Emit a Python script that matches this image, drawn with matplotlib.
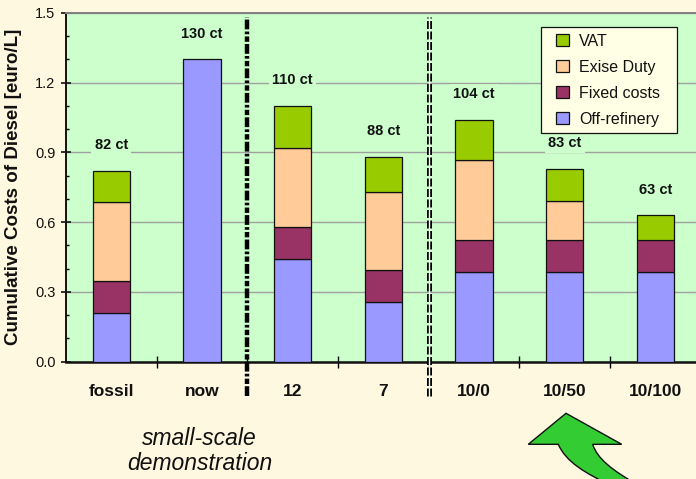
import matplotlib
matplotlib.use("Agg")
import matplotlib.pyplot as plt
import numpy as np
from matplotlib.path import Path
from matplotlib.patches import PathPatch, Patch, Rectangle
from matplotlib.transforms import Affine2D, blended_transform_factory
from matplotlib.ticker import MultipleLocator, FixedLocator

plt.rcParams['font.family'] = ['Liberation Sans', 'DejaVu Sans']

# Cost breakdown of diesel per scenario (euro per litre)
categories = ["fossil", "now", "12", "7", "10/0", "10/50", "10/100"]
off_refinery = [0.21, 1.30, 0.44, 0.255, 0.385, 0.385, 0.385]
fixed_costs = [0.135, 0.0, 0.14, 0.14, 0.14, 0.14, 0.14]
excise_duty = [0.34, 0.0, 0.34, 0.335, 0.34, 0.165, 0.0]
vat = [0.135, 0.0, 0.18, 0.15, 0.175, 0.14, 0.105]
total_labels = ["82 ct", "130 ct", "110 ct", "88 ct", "104 ct", "83 ct", "63 ct"]

series_names = ["Off-refinery", "Fixed costs", "Exise Duty", "VAT"]
series_colors = ["#9999FF", "#993366", "#FFCC99", "#99CC00"]

FIG_BG = "#FFF8E0"
PLOT_BG = "#CCFFCC"
W, H = 696, 479

fig = plt.figure(figsize=(W / 100, H / 100), dpi=100, facecolor=FIG_BG)
ax = fig.add_axes([66.0 / W, 1 - 361.7 / H, 634.7 / W, 349.0 / H])
ax.set_facecolor(PLOT_BG)

# pixel coordinates (origin top-left) for figure decorations
px = Affine2D().scale(1 / W, -1 / H).translate(0, 1) + fig.transFigure

x = np.arange(len(categories))
bar_w = 0.41
bottom = np.zeros(len(categories))
for vals, color in zip([off_refinery, fixed_costs, excise_duty, vat], series_colors):
    vals = np.asarray(vals)
    mask = vals > 0
    ax.bar(x[mask], vals[mask], bar_w, bottom=bottom[mask], color=color,
           edgecolor="#111111", linewidth=0.9, zorder=3)
    bottom += vals

totals = bottom
for xi, tot, lab in zip(x, totals, total_labels):
    ax.text(xi, tot + 0.11, lab, ha="center", va="center", fontsize=10.5,
            fontweight="bold", color="#111111", zorder=4,
            bbox=dict(facecolor=PLOT_BG, edgecolor="none", pad=2.5))

ax.set_xlim(-0.5, len(categories) - 0.5)
ax.set_ylim(0, 1.5)

# y axis: major every 0.3 with grid, minor every 0.1
ax.yaxis.set_major_locator(MultipleLocator(0.3))
ax.yaxis.set_minor_locator(MultipleLocator(0.1))
ax.yaxis.set_major_formatter(matplotlib.ticker.FormatStrFormatter("%.1f"))
ax.tick_params(axis="y", which="major", direction="inout", length=7, width=1.2,
               labelsize=10.5, pad=4, colors="#111111")
ax.tick_params(axis="y", which="minor", direction="in", length=2.5, width=1.0)
ax.yaxis.grid(True, which="major", color="#A0A0A0", linewidth=1.0)
ax.set_axisbelow(True)

# x axis: labels at category centres, ticks between categories
ax.xaxis.set_major_locator(FixedLocator(x))
ax.set_xticklabels(categories, fontsize=12.5, fontweight="bold", color="#111111")
ax.xaxis.set_minor_locator(FixedLocator(x[:-1] + 0.5))
ax.tick_params(axis="x", which="major", length=0, pad=16)
ax.tick_params(axis="x", which="minor", direction="inout", length=8, width=1.0)

ax.set_ylabel("Cumulative Costs of Diesel [euro/L]", fontsize=13.5,
              fontweight="bold", color="#111111")
ax.yaxis.set_label_coords((21.7 - 66.0) / 634.7, 0.5)

ax.spines["left"].set_color("#111111")
ax.spines["left"].set_linewidth(1.4)
ax.spines["bottom"].set_color("#111111")
ax.spines["bottom"].set_linewidth(1.8)
ax.spines["top"].set_color("#808080")
ax.spines["top"].set_linewidth(1.4)
ax.spines["right"].set_visible(False)

# group separators
trans = blended_transform_factory(ax.transData, ax.transAxes)
y_top = (361.7 - 17) / 349.0
y_bot = (361.7 - 396) / 349.0
ax.plot([1.5, 1.5], [y_bot, y_top], transform=trans, color="black", lw=3.2,
        linestyle=(0, (2.2, 0.5, 1.2, 0.5, 0.6, 0.5)), clip_on=False, zorder=5,
        solid_capstyle="butt", dash_capstyle="butt")
ax.plot([3.5, 3.5], [y_bot, y_top], transform=trans, color="black", lw=3.6,
        linestyle=(0, (1.6, 0.5)), clip_on=False, zorder=5, dash_capstyle="butt")
ax.plot([3.5, 3.5], [y_bot, y_top], transform=trans, color="#F4FFF4", lw=1.0,
        clip_on=False, zorder=6)

# legend box and entries
ax.add_patch(Rectangle((541, 26.7), 135.7, 106.3, transform=px, clip_on=False,
                       facecolor="#FFFFE6", edgecolor="#111111", linewidth=0.9,
                       zorder=6))
handles = [Patch(facecolor=c, edgecolor="#111111", linewidth=0.9)
           for c in series_colors][::-1]
leg = ax.legend(handles, series_names[::-1], loc="upper left",
                bbox_to_anchor=(556.0 / W, 1 - 33.5 / H),
                bbox_transform=fig.transFigure, fontsize=11.5, frameon=False,
                handlelength=0.8, handleheight=0.8, handletextpad=0.65,
                labelspacing=0.69, borderpad=0.0, borderaxespad=0.0)
for t in leg.get_texts():
    t.set_color("#111111")
leg.set_zorder(7)

# annotation below the axis
fig.text(199.5, 451, "small-scale\ndemonstration", transform=px, ha="center",
         va="center", fontsize=16.5, style="italic", color="#111111",
         linespacing=1.12)

# curved block arrow
verts = [
    (566.0, 413.3),
    (621.7, 444.3),
    (592.7, 444.3),
    (597.0, 458.0), (611.0, 470.0), (640.0, 486.0),
    (612.0, 486.0),
    (585.0, 473.0), (566.0, 462.0), (558.3, 444.3),
    (528.3, 444.3),
    (566.0, 413.3),
]
codes = [Path.MOVETO, Path.LINETO, Path.LINETO,
         Path.CURVE4, Path.CURVE4, Path.CURVE4,
         Path.LINETO,
         Path.CURVE4, Path.CURVE4, Path.CURVE4,
         Path.LINETO, Path.CLOSEPOLY]
arrow = PathPatch(Path(verts, codes), facecolor="#33CC33", edgecolor="#111111",
                  linewidth=1.0, transform=px)
fig.add_artist(arrow)

fig.savefig("out.png", dpi=100, facecolor=FIG_BG)
